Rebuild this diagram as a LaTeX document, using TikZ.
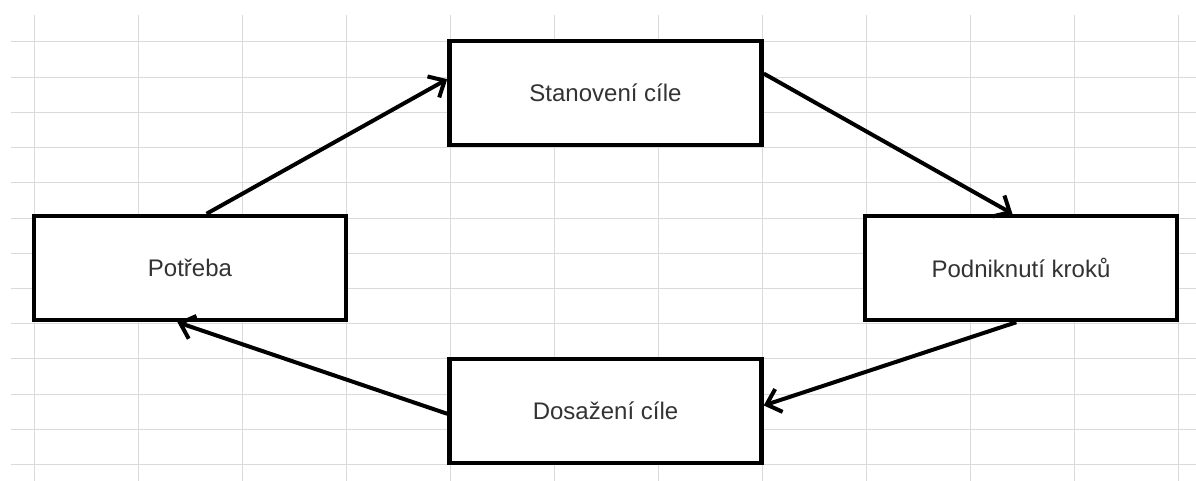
\documentclass[tikz,border=0pt]{standalone}
\usepackage{fontspec}
\setmainfont{Liberation Sans}
\usetikzlibrary{arrows.meta}
\definecolor{gridgray}{HTML}{DADADA}
\definecolor{textgray}{HTML}{333333}

\begin{document}
\begin{tikzpicture}[x=1pt, y=-1pt,
  box/.style={draw, line width=4.5pt, fill=white, minimum width=312pt, minimum height=104pt,
    inner sep=0pt, text=textgray, font=\fontsize{24}{28}\selectfont},
  arr/.style={line width=4pt, -{Straight Barb[length=13pt, width=24pt]}}]
\useasboundingbox (0,0) rectangle (1196,481);
% spreadsheet grid
\foreach \i in {0,...,11}
  \draw[gridgray, line width=1pt] (34+104*\i, 15) -- (34+104*\i, 481);
\foreach \j in {0,...,12}
  \draw[gridgray, line width=1pt] (11, 42+35.2*\j) -- (1196, 42+35.2*\j);

\node[box] (stan) at (605.5, 93) {Stanovení cíle};
\node[box] (pot) at (190, 268) {Potřeba};
\node[box] (podn) at (1021, 268) {Podniknutí kroků};
\node[box] (dos) at (605.5, 411) {Dosažení cíle};

\draw[arr] (pot.73) -- (stan.175);
\draw[arr] (stan.7) -- (podn.99);
\draw[arr] (podn.265) -- (dos.2);
\draw[arr] (dos.181) -- (pot.257);

\end{tikzpicture}
\end{document}
